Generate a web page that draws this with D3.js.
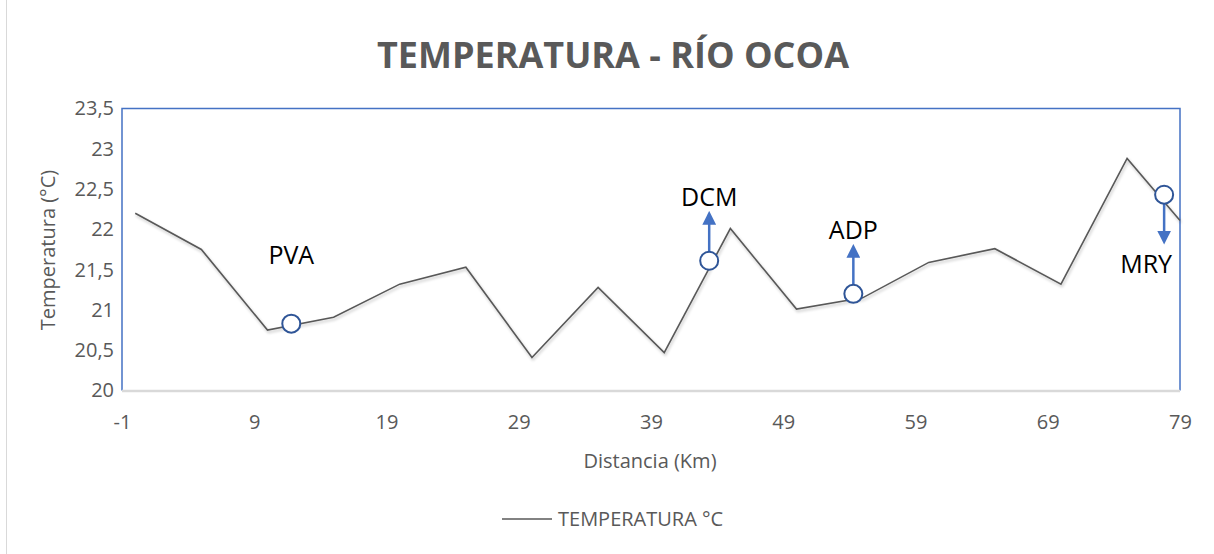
<!DOCTYPE html>
<html>
<head>
<meta charset="utf-8">
<script src="https://cdn.jsdelivr.net/npm/d3@7"></script>
<style>
  html, body { margin: 0; padding: 0; background: #fff; }
  svg { display: block; }
</style>
</head>
<body>
<svg id="chart" width="1214" height="554"></svg>
<script>
// ---- data ----
const distances = [0, 5, 10, 15, 20, 25, 30, 35, 40, 45, 50, 55, 60, 65, 70, 75, 79];
const temperatures = [22.20, 21.75, 20.75, 20.91, 21.32, 21.53, 20.41, 21.28, 20.47, 22.01, 21.01, 21.15, 21.59, 21.76, 21.32, 22.88, 22.11];
const xTicks = [-1, 9, 19, 29, 39, 49, 59, 69, 79];
const yTicks = [20, 20.5, 21, 21.5, 22, 22.5, 23, 23.5];
const siteNames = ["PVA", "DCM", "ADP", "MRY"];
const siteDistances = [11.8, 43.4, 54.3, 77.8];
const siteTemps = [20.83, 21.61, 21.20, 22.43];
const siteArrowDir = ["none", "up", "up", "down"];

const titleText = "TEMPERATURA - RÍO OCOA";
const xTitle = "Distancia (Km)";
const yTitle = "Temperatura (°C)";
const legendLabel = "TEMPERATURA °C";

// ---- layout ----
const svg = d3.select("#chart");
const pLeft = 122, pRight = 1180, pTop = 108.5, pBottom = 390.5;
const x = d3.scaleLinear().domain([-1, 79]).range([pLeft, pRight]);
const y = d3.scaleLinear().domain([20, 23.5]).range([pBottom, pTop]);
const font = "'Open Sans', 'Liberation Sans', sans-serif";
const grey = "#595959";

// outer left border line
svg.append("line").attr("x1", 6.5).attr("x2", 6.5).attr("y1", 0).attr("y2", 554)
  .attr("stroke", "#D9D9D9").attr("stroke-width", 1);

// title
svg.append("text").attr("x", 613).attr("y", 68).attr("text-anchor", "middle")
  .attr("font-family", font).attr("font-weight", "bold").attr("font-size", 36)
  .attr("fill", grey).text(titleText);

// plot frame
svg.append("path")
  .attr("d", `M${pLeft},${pBottom}V${pTop}H${pRight}V${pBottom}`)
  .attr("fill", "none").attr("stroke", "#4472C4").attr("stroke-width", 1.5);
svg.append("line").attr("x1", pLeft).attr("x2", pRight).attr("y1", pBottom + 0.5).attr("y2", pBottom + 0.5)
  .attr("stroke", "#D9D9D9").attr("stroke-width", 2.5);

// axes
const xAxis = d3.axisBottom(x).tickValues(xTicks).tickSize(0).tickPadding(0).tickFormat(d => String(d));
const gx = svg.append("g").attr("transform", `translate(0,${pBottom + 24})`).call(xAxis);
gx.select(".domain").remove();
gx.selectAll("text").attr("font-family", font).attr("font-size", 20).attr("fill", grey).attr("dy", "0.71em");

const yAxis = d3.axisLeft(y).tickValues(yTicks).tickSize(0).tickPadding(0)
  .tickFormat(d => String(d).replace(".", ","));
const gy = svg.append("g").attr("transform", `translate(${pLeft - 8},0)`).call(yAxis);
gy.select(".domain").remove();
gy.selectAll("text").attr("font-family", font).attr("font-size", 20).attr("fill", grey);

// axis titles
svg.append("text").attr("x", 650).attr("y", 468).attr("text-anchor", "middle")
  .attr("font-family", font).attr("font-size", 20).attr("fill", grey).text(xTitle);
svg.append("text").attr("transform", "translate(55,250) rotate(-90)").attr("text-anchor", "middle")
  .attr("font-family", font).attr("font-size", 20).attr("fill", grey).text(yTitle);

// shadow filter
const defs = svg.append("defs");
const f = defs.append("filter").attr("id", "sh").attr("x", "-5%").attr("y", "-20%").attr("width", "110%").attr("height", "140%");
f.append("feGaussianBlur").attr("in", "SourceAlpha").attr("stdDeviation", 1.5).attr("result", "b");
f.append("feOffset").attr("in", "b").attr("dx", 1).attr("dy", 2).attr("result", "o");
f.append("feComponentTransfer").attr("in", "o").attr("result", "o2")
  .append("feFuncA").attr("type", "linear").attr("slope", 0.25);
const m = f.append("feMerge");
m.append("feMergeNode").attr("in", "o2");
m.append("feMergeNode").attr("in", "SourceGraphic");

defs.append("marker").attr("id", "arrow").attr("viewBox", "0 0 10 10").attr("refX", 5).attr("refY", 5)
  .attr("markerWidth", 5.5).attr("markerHeight", 5.5).attr("markerUnits", "strokeWidth").attr("orient", "auto")
  .append("path").attr("d", "M0,0L10,5L0,10Z").attr("fill", "#4472C4");

// line
const line = d3.line().x((d, i) => x(distances[i])).y(d => y(d));
svg.append("path").datum(temperatures).attr("d", line)
  .attr("fill", "none").attr("stroke", "#595959").attr("stroke-width", 1.6)
  .attr("stroke-linejoin", "miter").attr("filter", "url(#sh)");

// sites: arrows, circles, labels
const arrowLen = 34;
siteNames.forEach((name, i) => {
  const cx = x(siteDistances[i]), cy = y(siteTemps[i]);
  const dir = siteArrowDir[i];
  if (dir !== "none") {
    const s = dir === "up" ? -1 : 1;
    svg.append("line").attr("x1", cx).attr("y1", cy + s * 9).attr("x2", cx).attr("y2", cy + s * (9 + arrowLen))
      .attr("stroke", "#4472C4").attr("stroke-width", 2.5).attr("marker-end", "url(#arrow)");
  }
  svg.append("circle").attr("cx", cx).attr("cy", cy).attr("r", 9)
    .attr("fill", "#fff").attr("stroke", "#2F5597").attr("stroke-width", 2);
  let lx = cx, ly;
  if (dir === "none") { ly = cy - 60; }
  else if (dir === "up") { ly = cy - 55; }
  else { lx = cx - 18; ly = cy + 78; }
  svg.append("text").attr("x", lx).attr("y", ly).attr("text-anchor", "middle")
    .attr("font-family", font).attr("font-size", 25).attr("fill", "#000").text(name);
});

// legend
svg.append("line").attr("x1", 502).attr("x2", 552).attr("y1", 519).attr("y2", 519)
  .attr("stroke", "#595959").attr("stroke-width", 1.6);
svg.append("text").attr("x", 558).attr("y", 526).attr("font-family", font).attr("font-size", 20)
  .attr("fill", grey).text(legendLabel);
</script>
</body>
</html>
